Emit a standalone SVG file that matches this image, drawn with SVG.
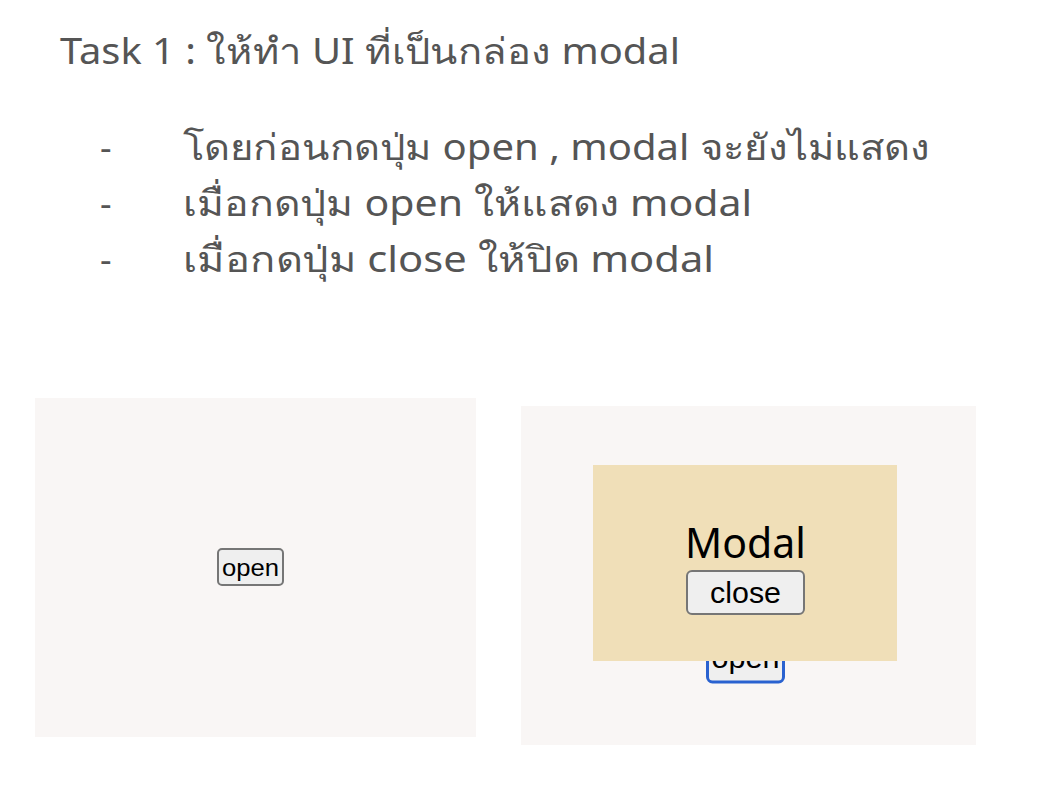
<svg xmlns="http://www.w3.org/2000/svg" width="1044" height="806" viewBox="0 0 1044 806">
<style>
.h{font-family:"Noto Sans","Open Sans","DejaVu Sans",sans-serif;fill:#555555;font-size:36px}
.btn{fill:#efefef;stroke:#767676;stroke-width:2}
.bt{font-family:"Liberation Sans",Arial,sans-serif;fill:#000}
.panel{fill:#f9f6f5}
</style>
<rect width="1044" height="806" fill="#ffffff"/>
<g id="title"><text class="h" x="60" y="64" font-size="37" textLength="620" lengthAdjust="spacingAndGlyphs">Task 1 : ให้ทำ UI ที่เป็นกล่อง modal</text></g>
<g id="bullets">
<text class="h" x="100" y="160">-</text>
<text class="h" x="183" y="160" textLength="747" lengthAdjust="spacingAndGlyphs">โดยก่อนกดปุ่ม open , modal จะยังไม่แสดง</text>
<text class="h" x="100" y="216">-</text>
<text class="h" x="183" y="216" textLength="569" lengthAdjust="spacingAndGlyphs">เมื่อกดปุ่ม open ให้แสดง modal</text>
<text class="h" x="100" y="272">-</text>
<text class="h" x="183" y="272" textLength="531" lengthAdjust="spacingAndGlyphs">เมื่อกดปุ่ม close ให้ปิด modal</text>
</g>
<g id="panel-before">
<rect class="panel" x="35" y="398" width="441" height="339"/>
<rect class="btn" x="218" y="549" width="65" height="36" rx="4"/>
<text class="bt" x="250.5" y="576" font-size="24" text-anchor="middle" textLength="57" lengthAdjust="spacingAndGlyphs">open</text>
</g>
<g id="panel-after">
<rect class="panel" x="521" y="406" width="455" height="339"/>
<rect x="707.5" y="635" width="76" height="47" rx="5" fill="#efefef" stroke="#2a62d0" stroke-width="3"/>
<text class="bt" x="745.5" y="668" font-size="29" text-anchor="middle" textLength="68" lengthAdjust="spacingAndGlyphs">open</text>
<rect x="593" y="465" width="304" height="196" fill="#f0dfb8"/>
<text x="745.5" y="558" font-size="41" text-anchor="middle" font-family="'Noto Sans','Open Sans',sans-serif" fill="#000">Modal</text>
<rect class="btn" x="687" y="571" width="117" height="43" rx="5"/>
<text class="bt" x="745.5" y="603" font-size="29" text-anchor="middle" textLength="71" lengthAdjust="spacingAndGlyphs">close</text>
</g>
</svg>
